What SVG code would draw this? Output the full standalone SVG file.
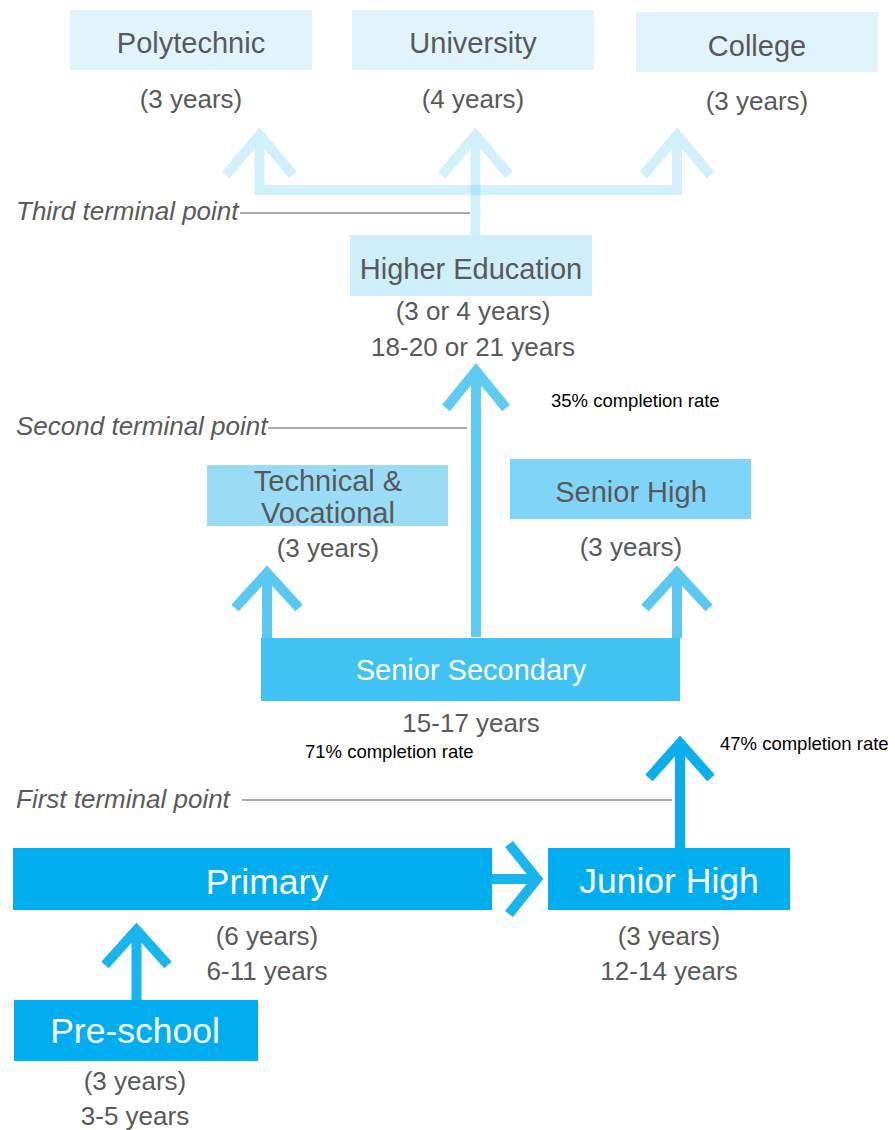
<svg xmlns="http://www.w3.org/2000/svg" width="895" height="1130" viewBox="0 0 895 1130">
<style>
text{font-family:"Liberation Sans",Arial,sans-serif;}
.t{font-size:29px;fill:#58595b;text-anchor:middle;}
.tw{font-size:29px;fill:#ffffff;text-anchor:middle;}
.tb{font-size:35.5px;fill:#ffffff;text-anchor:middle;}
.s{font-size:26px;fill:#58595b;text-anchor:middle;}
.term{font-size:26px;fill:#5a5a5a;font-style:italic;}
.rate{font-size:18.5px;fill:#000000;}
.arr{fill:none;stroke-width:10;stroke-linejoin:miter;stroke-miterlimit:10;}
.tl{stroke:#555555;stroke-width:1.2;}
</style>
<g id="connectors">
  <path class="arr" d="M226,175 L259.5,135 L293,175 M259.5,135 L259.5,190 L677,190 L677,135 M643.5,175 L677,135 L710.5,175" stroke="#5bc8f5" stroke-opacity="0.28"/>
  <path class="arr" d="M442,175 L475.5,135 L509,175 M475.5,135 L475.5,235" stroke="#5bc8f5" stroke-opacity="0.28"/>
  <path class="arr" d="M446,408 L476,371 L506,408 M476,371 L476,637" stroke="#5ecbf3"/>
  <path class="arr" d="M235,608 L267,573 L299,608 M267,573 L267,638" stroke="#5bc8f2"/>
  <path class="arr" d="M645,608 L677,573 L709,608 M677,573 L677,638" stroke="#5bc8f2"/>
  <path class="arr" d="M649,778 L680,743 L711,778 M680,743 L680,848" stroke="#0aaeec"/>
  <path class="arr" d="M105,965 L136.5,930 L168,965 M136.5,930 L136.5,1000" stroke="#1ab4ee"/>
  <path class="arr" d="M509,844 L537,879 L509,914 M492,879 L537,879" stroke="#1ab4ee" stroke-width="11"/>
  <line class="tl" x1="240" y1="213" x2="470" y2="213"/>
  <line class="tl" x1="268" y1="428" x2="467" y2="428"/>
  <line class="tl" x1="242" y1="800" x2="672" y2="800"/>
</g>
<g id="polytechnic">
  <rect x="70" y="10" width="242" height="60" fill="#e1f4fc"/>
  <text class="t" x="191" y="53">Polytechnic</text>
  <text class="s" x="191" y="108">(3 years)</text>
</g>
<g id="university">
  <rect x="352" y="10" width="242" height="60" fill="#e1f4fc"/>
  <text class="t" x="473" y="53">University</text>
  <text class="s" x="473" y="108">(4 years)</text>
</g>
<g id="college">
  <rect x="636" y="12" width="242" height="60" fill="#e1f4fc"/>
  <text class="t" x="757" y="56">College</text>
  <text class="s" x="757" y="110">(3 years)</text>
</g>
<g id="third-terminal">
  <text class="term" x="16" y="220">Third terminal point</text>
</g>
<g id="higher-education">
  <rect x="350" y="235" width="242" height="61" fill="#cdeefa"/>
  <text class="t" x="471" y="279">Higher Education</text>
  <text class="s" x="473" y="320">(3 or 4 years)</text>
  <text class="s" x="473" y="356">18-20 or 21 years</text>
</g>
<g id="rate35">
  <text class="rate" x="551" y="407">35% completion rate</text>
</g>
<g id="second-terminal">
  <text class="term" x="16" y="435">Second terminal point</text>
</g>
<g id="technical-vocational">
  <rect x="207" y="465" width="241" height="61" fill="#9adcf6"/>
  <text class="t" x="328" y="491">Technical &amp;</text>
  <text class="t" x="328" y="523">Vocational</text>
  <text class="s" x="328" y="557">(3 years)</text>
</g>
<g id="senior-high">
  <rect x="510" y="459" width="241" height="60" fill="#80d4f7"/>
  <text class="t" x="631" y="502">Senior High</text>
  <text class="s" x="631" y="556">(3 years)</text>
</g>
<g id="senior-secondary">
  <rect x="261" y="638" width="419" height="63" fill="#40c2f2"/>
  <text class="tw" x="471" y="680">Senior Secondary</text>
  <text class="s" x="471" y="732">15-17 years</text>
</g>
<g id="rate71">
  <text class="rate" x="305" y="758">71% completion rate</text>
</g>
<g id="rate47">
  <text class="rate" x="720" y="750">47% completion rate</text>
</g>
<g id="first-terminal">
  <text class="term" x="16" y="808">First terminal point</text>
</g>
<g id="primary">
  <rect x="13" y="848" width="479" height="62" fill="#00aeef"/>
  <text class="tb" x="267" y="894">Primary</text>
  <text class="s" x="267" y="945">(6 years)</text>
  <text class="s" x="267" y="980">6-11 years</text>
</g>
<g id="junior-high">
  <rect x="548" y="848" width="242" height="62" fill="#00aeef"/>
  <text class="tb" x="669" y="893">Junior High</text>
  <text class="s" x="669" y="945">(3 years)</text>
  <text class="s" x="669" y="980">12-14 years</text>
</g>
<g id="pre-school">
  <rect x="14" y="1000" width="244" height="61" fill="#00aeef"/>
  <text class="tb" x="135" y="1043">Pre-school</text>
  <text class="s" x="135" y="1125">3-5 years</text>
  <text class="s" x="135" y="1090">(3 years)</text>
</g>
</svg>
